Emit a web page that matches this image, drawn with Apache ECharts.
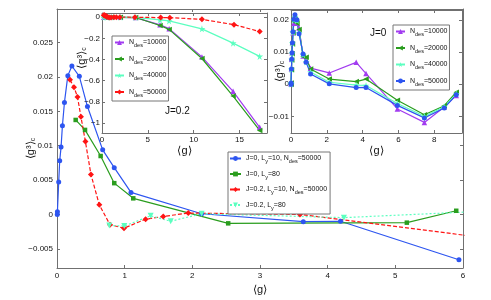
<!DOCTYPE html>
<html><head><meta charset="utf-8">
<script src="https://cdn.jsdelivr.net/npm/echarts@6/dist/echarts.min.js"></script>
<style>html,body{margin:0;padding:0;background:#fff}#c{width:491px;height:300px}</style>
</head><body><div id="c"></div>
<script>
// ---------- DATA ----------
// Main plot
const mainXTicks = [0,1,2,3,4,5,6];
const mainYTicks = [-0.005,0,0.005,0.01,0.015,0.02,0.025];
const blueMainX = [0.004,0.006,0.025,0.04,0.06,0.08,0.11,0.16,0.22,0.33,0.45,0.675,0.846,1.093,2.137,3.64,4.19,5.94];
const blueMainY = [0.0,0.0004,0.0047,0.0078,0.0098,0.0129,0.0163,0.0202,0.0216,0.0201,0.0157,0.0094,0.0068,0.0032,0.0001,-0.00105,-0.001,-0.0066];
const greenMainX = [0.276,0.414,0.645,0.846,1.127,2.53,5.17,5.90];
const greenMainY = [0.01375,0.0123,0.0085,0.00455,0.00234,-0.0013,-0.0012,0.00053];
const redMainX = [0.192,0.251,0.303,0.354,0.42,0.502,0.625,0.783,0.99,1.31,1.57,1.94,3.59,6.4];
const redMainY = [0.0196,0.0185,0.0171,0.0142,0.0106,0.0058,0.0014,-0.0015,-0.002,-0.0007,-0.0003,0.0002,0.0,-0.0035];
const cyanMainX = [0.773,0.994,1.384,1.68,2.137,4.24,6.6];
const cyanMainY = [-0.0016,-0.0017,-0.0002,-0.001,0.0001,-0.00047,0.0006];
const mainNames = ['J=0, L_y=10, N_des=50000','J=0, L_y=80','J=0.2, L_y=10, N_des=50000','J=0.2, L_y=80'];

// Left inset (J=0.2)
const leftXTicks = [0,5,10,15];
const leftYTicks = [-1,-0.8,-0.6,-0.4,-0.2,0];
const leftX = [0.2,0.5,1,2,3.66,6.33,7.32,10.9,14.3,17.2];
const leftPurpleY = [0,0,0,-0.001,-0.003,-0.072,-0.108,-0.375,-0.70,-1.04];
const leftGreenY  = [0,0,0,-0.001,-0.003,-0.078,-0.115,-0.39,-0.745,-1.07];
const leftCyanY   = [0,0,0,0,-0.002,-0.025,-0.035,-0.11,-0.245,-0.37];
const leftRedX = [0.192,0.251,0.303,0.354,0.42,0.502,0.625,0.783,0.99,1.31,1.57,1.94,3.59,6.4,7.4,10.9,14.4,17.2];
const leftRedY = [0.0196,0.0185,0.0171,0.0142,0.0106,0.0058,0.0014,-0.0015,-0.002,-0.0007,-0.0003,0.0002,0.0,-0.0035,-0.004,-0.02,-0.07,-0.135];
const leftNames = ['A:N_des=10000','A:N_des=20000','A:N_des=40000','A:N_des=50000'];

// Right inset (J=0)
const rightXTicks = [0,2,4,6,8];
const rightYTicks = [-0.01,0,0.01,0.02];
const rightX = [0.004,0.006,0.025,0.04,0.06,0.08,0.11,0.16,0.22,0.33,0.45,0.675,0.846,1.093,2.137,3.64,4.19,5.94,7.45,8.56,9.23];
const rightPurpleY = [0,0.0004,0.0047,0.0078,0.0098,0.0129,0.016,0.019,0.0205,0.019,0.0175,0.0088,0.0074,0.005,0.0035,0.0068,0.0033,-0.0077,-0.0119,-0.0071,-0.0035];
const rightGreenY  = [0,0.0004,0.0045,0.0075,0.0095,0.0125,0.016,0.0195,0.0202,0.019,0.017,0.0086,0.0084,0.0047,0.0016,0.0008,0.0016,-0.005,-0.0095,-0.0067,-0.0025];
const rightCyanY   = [0,0.0004,0.0046,0.0077,0.0097,0.0128,0.0162,0.020,0.021,0.0198,0.016,0.0092,0.0069,0.0038,0.0006,-0.0003,-0.0004,-0.006,-0.0100,-0.007,-0.003];
const rightBlueY   = [0.0,0.0004,0.0047,0.0078,0.0098,0.0129,0.0163,0.0202,0.0216,0.0201,0.0157,0.0094,0.0068,0.0032,0.0001,-0.00105,-0.001,-0.0066,-0.0105,-0.0074,-0.0033];
const rightNames = ['B:N_des=10000','B:N_des=20000','B:N_des=40000','B:N_des=50000'];

// ---------- STYLE ----------
const FONT = 'Liberation Sans, Arial, sans-serif';
const AXIS = '#707070';
const C = {blue:'#2d55f0', green:'#2a9d1e', red:'#ff1414', cyan:'#5cffc0', purple:'#a23cf0'};
const STAR = 'path://M50,0 L61,35 L98,35 L68,57 L79,91 L50,70 L21,91 L32,57 L2,35 L39,35 Z';

function fmtNum(v){ return String(+(+v).toFixed(4)).replace('-', '\u2212'); }
function pairs(X, Y){ return X.map((x,i)=>[x, Y[i]]); }
function richName(n){ return n.replace(/^[A-Z]:/,'').replace(/_(\w+)/g,(m,p)=>'{s|'+p+'}'); }

function axis(grid, pos, min, max, ticks, showLabel, margin, z, extra){
  return Object.assign({
    type:'value', gridIndex:grid, position:pos, min:min, max:max, z:z,
    nameMoveOverlap:false,
    axisLine:{show:true, onZero:false, lineStyle:{color:AXIS, width:1}},
    axisTick:{show:true, inside:true, length:3, customValues:ticks, lineStyle:{color:AXIS}},
    axisLabel:{show:showLabel, customValues:ticks, formatter:fmtNum, fontSize:8, fontFamily:FONT, color:'#111', margin:margin},
    splitLine:{show:false}
  }, extra || {});
}
const nameRich = {s:{fontSize:7, fontFamily:FONT, padding:[5,0,0,0]}};
const legendText = {fontSize:7, fontFamily:FONT, color:'#111', rich:{s:{fontSize:5.5, fontFamily:FONT, color:'#111', padding:[6,0,0,0]}}};

function ser(name, data, color, symbol, size, xi, yi, z, opts){
  return Object.assign({
    type:'line', name:name, data:data, xAxisIndex:xi, yAxisIndex:yi, z:z,
    symbol:symbol, symbolSize:size, showSymbol:true, animation:false,
    itemStyle:{color:color, borderWidth:0},
    lineStyle:{color:color, width:1.2}
  }, opts || {});
}

// ---------- CHART ----------
const chart = echarts.init(document.getElementById('c'), null, {renderer:'canvas'});
const ZI = 11;
const option = {
  backgroundColor:'#fff',
  animation:false,
  grid:[
    {left:57, top:9, width:406, height:264, show:false},
    {left:102, top:13, width:165, height:120, show:true, backgroundColor:'#fff', borderWidth:0, z:10},
    {left:291, top:10, width:171, height:123, show:true, backgroundColor:'#fff', borderWidth:0, z:10}
  ],
  xAxis:[
    axis(0,'bottom',0,6,mainXTicks,true,4,1,{name:'\u27E8g\u27E9', nameLocation:'middle', nameGap:16,
      nameTextStyle:{fontSize:11, fontFamily:FONT, color:'#111'}}),
    axis(0,'top',0,6,mainXTicks,false,4,1),
    axis(1,'bottom',0,18,leftXTicks,true,3,ZI,{name:'\u27E8g\u27E9', nameLocation:'middle', nameGap:12,
      nameTextStyle:{fontSize:11, fontFamily:FONT, color:'#111'}}),
    axis(1,'top',0,18,leftXTicks,false,3,ZI),
    axis(2,'bottom',0,9.55,rightXTicks,true,3,ZI,{name:'\u27E8g\u27E9', nameLocation:'middle', nameGap:12,
      nameTextStyle:{fontSize:11, fontFamily:FONT, color:'#111'}}),
    axis(2,'top',0,9.55,rightXTicks,false,3,ZI)
  ],
  yAxis:[
    axis(0,'left',-0.0078,0.0299,mainYTicks,true,4,1,{name:'\u27E8g\u00B3\u27E9{s|c}', nameLocation:'middle', nameGap:20,
      nameTextStyle:{fontSize:11, fontFamily:FONT, color:'#111', padding:[0,20,0,0], rich:nameRich}}),
    axis(0,'right',-0.0078,0.0299,mainYTicks,false,4,1),
    axis(1,'left',-1.094,0.04,leftYTicks,true,2,ZI,{name:'\u27E8g\u00B3\u27E9{s|c}', nameLocation:'middle', nameGap:14,
      nameTextStyle:{fontSize:11, fontFamily:FONT, color:'#111', padding:[0,0,0,30], rich:nameRich}}),
    axis(1,'right',-1.094,0.04,leftYTicks,false,2,ZI),
    axis(2,'left',-0.0152,0.0231,rightYTicks,true,2,ZI,{name:'\u27E8g\u00B3\u27E9{s|c}', nameLocation:'middle', nameGap:5,
      nameTextStyle:{fontSize:11, fontFamily:FONT, color:'#111', rich:nameRich}}),
    axis(2,'right',-0.0152,0.0231,rightYTicks,false,2,ZI)
  ],
  legend:[
    {data:mainNames, left:228, top:152, orient:'vertical', itemGap:6, itemWidth:11, itemHeight:6, itemTextGap:1,
     padding:[3,3,3,1], backgroundColor:'#fff', borderColor:'#777', borderWidth:1, borderRadius:0, selectedMode:false, z:6,
     formatter:richName, textStyle:legendText},
    {data:leftNames, left:112, top:36, orient:'vertical', itemGap:7, itemWidth:9, itemHeight:6, itemTextGap:1,
     padding:[3,2,3,2], backgroundColor:'#fff', borderColor:'#777', borderWidth:1, borderRadius:0, selectedMode:false, z:15,
     formatter:richName, textStyle:legendText},
    {data:rightNames, left:393, top:25, orient:'vertical', itemGap:7, itemWidth:9, itemHeight:6, itemTextGap:1,
     padding:[3,2,3,2], backgroundColor:'#fff', borderColor:'#777', borderWidth:1, borderRadius:0, selectedMode:false, z:15,
     formatter:richName, textStyle:legendText}
  ],
  graphic:[
    {type:'text', z:20, left:165, top:106, style:{text:'J=0.2', font:'10px '+FONT, fill:'#111'}},
    {type:'text', z:20, left:370, top:28, style:{text:'J=0', font:'10px '+FONT, fill:'#111'}}
  ],
  series:[
    ser(mainNames[0], pairs(blueMainX, blueMainY), C.blue, 'circle', 5, 0, 0, 2),
    ser(mainNames[1], pairs(greenMainX, greenMainY), C.green, 'rect', 4.5, 0, 0, 2),
    ser(mainNames[2], pairs(redMainX, redMainY), C.red, 'diamond', 6, 0, 0, 2, {lineStyle:{color:C.red, width:1.2, type:[4,2]}}),
    ser(mainNames[3], pairs(cyanMainX, cyanMainY), C.cyan, 'triangle', 6, 0, 0, 2, {symbolRotate:180, lineStyle:{color:C.cyan, width:1.2, type:[2,2]}}),

    ser(leftNames[0], pairs(leftX, leftPurpleY), C.purple, 'triangle', 5.5, 2, 2, 12),
    ser(leftNames[1], pairs(leftX, leftGreenY), C.green, 'triangle', 5.5, 2, 2, 12, {symbolRotate:90}),
    ser(leftNames[2], pairs(leftX, leftCyanY), C.cyan, STAR, 7, 2, 2, 12),
    ser(leftNames[3], pairs(leftRedX, leftRedY), C.red, 'diamond', 6, 2, 2, 12, {lineStyle:{color:C.red, width:1.2, type:[4,2]}}),

    ser(rightNames[0], pairs(rightX, rightPurpleY), C.purple, 'triangle', 5.5, 4, 4, 12),
    ser(rightNames[1], pairs(rightX, rightGreenY), C.green, 'triangle', 5.5, 4, 4, 12, {symbolRotate:90}),
    ser(rightNames[2], pairs(rightX, rightCyanY), C.cyan, STAR, 7, 4, 4, 12),
    ser(rightNames[3], pairs(rightX, rightBlueY), C.blue, 'circle', 5, 4, 4, 12)
  ]
};
chart.setOption(option);
</script>
</body></html>
